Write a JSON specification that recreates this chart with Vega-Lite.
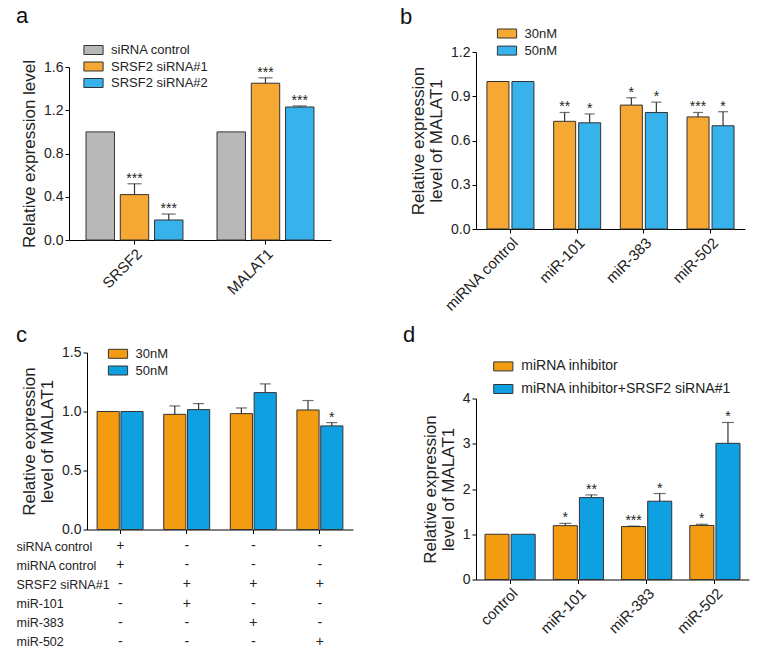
{
  "$schema": "https://vega.github.io/schema/vega-lite/v6.json",
  "padding": {"left": 15, "top": 4, "right": 5, "bottom": 0},
  "config": {
    "font": "Liberation Sans",
    "view": {"stroke": null},
    "axis": {"grid": false, "domainColor": "#000", "tickColor": "#000", "labelColor": "#222", "titleColor": "#222", "labelFontSize": 14, "titleFontSize": 17, "titleFontWeight": "normal", "tickSize": 4, "labelPadding": 2, "titlePadding": 5, "titleLineHeight": 18},
    "legend": {"labelFontSize": 13, "labelColor": "#222", "symbolType": "M-1.6,-0.75H1.6V0.75H-1.6Z", "symbolSize": 144, "symbolStrokeColor": "#333", "symbolStrokeWidth": 1, "symbolOpacity": 1, "labelOffset": 11, "rowPadding": 2.5, "title": null},
    "title": {"fontSize": 22, "fontWeight": "normal", "anchor": "start", "frame": "group", "color": "#111"}
  },
  "datasets": {
    "a": [
      {"g": "SRSF2", "s": "siRNA control", "v": 1.0, "u": 1.0, "sig": ""},
      {"g": "SRSF2", "s": "SRSF2 siRNA#1", "v": 0.42, "u": 0.52, "sig": "***"},
      {"g": "SRSF2", "s": "SRSF2 siRNA#2", "v": 0.185, "u": 0.24, "sig": "***"},
      {"g": "MALAT1", "s": "siRNA control", "v": 1.0, "u": 1.0, "sig": ""},
      {"g": "MALAT1", "s": "SRSF2 siRNA#1", "v": 1.45, "u": 1.5, "sig": "***"},
      {"g": "MALAT1", "s": "SRSF2 siRNA#2", "v": 1.23, "u": 1.24, "sig": "***"}
    ],
    "b": [
      {"g": "miRNA control", "s": "30nM", "v": 1.0, "u": 1.0, "sig": ""},
      {"g": "miRNA control", "s": "50nM", "v": 1.0, "u": 1.0, "sig": ""},
      {"g": "miR-101", "s": "30nM", "v": 0.73, "u": 0.79, "sig": "**"},
      {"g": "miR-101", "s": "50nM", "v": 0.72, "u": 0.78, "sig": "*"},
      {"g": "miR-383", "s": "30nM", "v": 0.84, "u": 0.89, "sig": "*"},
      {"g": "miR-383", "s": "50nM", "v": 0.79, "u": 0.86, "sig": "*"},
      {"g": "miR-502", "s": "30nM", "v": 0.76, "u": 0.79, "sig": "***"},
      {"g": "miR-502", "s": "50nM", "v": 0.70, "u": 0.795, "sig": "*"}
    ],
    "c": [
      {"g": "control", "s": "30nM", "v": 1.0, "u": 1.0, "sig": ""},
      {"g": "control", "s": "50nM", "v": 1.0, "u": 1.0, "sig": ""},
      {"g": "miR-101", "s": "30nM", "v": 0.976, "u": 1.047, "sig": ""},
      {"g": "miR-101", "s": "50nM", "v": 1.016, "u": 1.067, "sig": ""},
      {"g": "miR-383", "s": "30nM", "v": 0.982, "u": 1.03, "sig": ""},
      {"g": "miR-383", "s": "50nM", "v": 1.16, "u": 1.234, "sig": ""},
      {"g": "miR-502", "s": "30nM", "v": 1.013, "u": 1.093, "sig": ""},
      {"g": "miR-502", "s": "50nM", "v": 0.878, "u": 0.906, "sig": "*"}
    ],
    "ct": [
      {"g": "control", "row": "siRNA control", "sym": "+"},
      {"g": "miR-101", "row": "siRNA control", "sym": "-"},
      {"g": "miR-383", "row": "siRNA control", "sym": "-"},
      {"g": "miR-502", "row": "siRNA control", "sym": "-"},
      {"g": "control", "row": "miRNA control", "sym": "+"},
      {"g": "miR-101", "row": "miRNA control", "sym": "-"},
      {"g": "miR-383", "row": "miRNA control", "sym": "-"},
      {"g": "miR-502", "row": "miRNA control", "sym": "-"},
      {"g": "control", "row": "SRSF2 siRNA#1", "sym": "-"},
      {"g": "miR-101", "row": "SRSF2 siRNA#1", "sym": "+"},
      {"g": "miR-383", "row": "SRSF2 siRNA#1", "sym": "+"},
      {"g": "miR-502", "row": "SRSF2 siRNA#1", "sym": "+"},
      {"g": "control", "row": "miR-101", "sym": "-"},
      {"g": "miR-101", "row": "miR-101", "sym": "+"},
      {"g": "miR-383", "row": "miR-101", "sym": "-"},
      {"g": "miR-502", "row": "miR-101", "sym": "-"},
      {"g": "control", "row": "miR-383", "sym": "-"},
      {"g": "miR-101", "row": "miR-383", "sym": "-"},
      {"g": "miR-383", "row": "miR-383", "sym": "+"},
      {"g": "miR-502", "row": "miR-383", "sym": "-"},
      {"g": "control", "row": "miR-502", "sym": "-"},
      {"g": "miR-101", "row": "miR-502", "sym": "-"},
      {"g": "miR-383", "row": "miR-502", "sym": "-"},
      {"g": "miR-502", "row": "miR-502", "sym": "+"}
    ],
    "d": [
      {"g": "control", "s": "miRNA inhibitor", "v": 1.0, "u": 1.0, "sig": ""},
      {"g": "control", "s": "miRNA inhibitor+SRSF2 siRNA#1", "v": 1.0, "u": 1.0, "sig": ""},
      {"g": "miR-101", "s": "miRNA inhibitor", "v": 1.19, "u": 1.24, "sig": "*"},
      {"g": "miR-101", "s": "miRNA inhibitor+SRSF2 siRNA#1", "v": 1.81, "u": 1.87, "sig": "**"},
      {"g": "miR-383", "s": "miRNA inhibitor", "v": 1.17, "u": 1.18, "sig": "***"},
      {"g": "miR-383", "s": "miRNA inhibitor+SRSF2 siRNA#1", "v": 1.73, "u": 1.9, "sig": "*"},
      {"g": "miR-502", "s": "miRNA inhibitor", "v": 1.195, "u": 1.22, "sig": "*"},
      {"g": "miR-502", "s": "miRNA inhibitor+SRSF2 siRNA#1", "v": 3.01, "u": 3.47, "sig": "*"}
    ]
  },
  "columns": 2,
  "align": "none",
  "spacing": {"column": 0, "row": 8.5},
  "resolve": {"scale": {"x": "independent", "y": "independent", "xOffset": "independent", "color": "independent"}, "legend": {"color": "independent"}},
  "concat": [
    {"width": 1, "height": 1, "data": {"values": []}, "mark": "point"},
    {
      "columns": 2,
      "align": "none",
      "spacing": {"column": 69, "row": 0},
      "resolve": {"scale": {"x": "independent", "y": "independent", "xOffset": "independent", "color": "independent"}, "legend": {"color": "independent"}},
      "concat": [
        {"width": 1, "height": 1, "data": {"values": []}, "mark": "point"},
        {"width": 1, "height": 1, "data": {"values": []}, "mark": "point"},
        {
          "width": 262, "height": 173,
          "title": {"text": "a", "dx": -53, "offset": 15.3},
          "data": {"name": "a"},
          "encoding": {
            "x": {"field": "g", "type": "nominal", "sort": ["SRSF2", "MALAT1"], "scale": {"paddingInner": 0.26, "paddingOuter": 0.13}, "axis": {"title": null, "labelAngle": -45, "labelFontSize": 15}},
            "xOffset": {"field": "s", "type": "nominal", "sort": ["siRNA control", "SRSF2 siRNA#1", "SRSF2 siRNA#2"], "scale": {"paddingInner": 0.17, "paddingOuter": 0}}
          },
          "layer": [
            {"mark": {"type": "bar", "stroke": "#333", "strokeWidth": 1},
             "encoding": {
               "y": {"field": "v", "type": "quantitative", "title": "Relative expression level", "scale": {"domain": [0, 1.6], "nice": false}, "axis": {"values": [0, 0.4, 0.8, 1.2, 1.6], "format": ".1f"}},
               "color": {"field": "s", "type": "nominal", "sort": ["siRNA control", "SRSF2 siRNA#1", "SRSF2 siRNA#2"], "scale": {"range": ["#B8B8B8", "#F5A833", "#37B2EB"]}, "legend": {"orient": "none", "legendX": 18, "legendY": -23.5}}
             }},
            {"transform": [{"filter": "datum.u > datum.v"}], "mark": {"type": "rule", "color": "#333", "strokeWidth": 1.2},
             "encoding": {"y": {"field": "v", "type": "quantitative", "title": "Relative expression level"}, "y2": {"field": "u"}}},
            {"transform": [{"filter": "datum.u > datum.v"}], "mark": {"type": "tick", "color": "#333", "size": 14, "thickness": 1.2},
             "encoding": {"y": {"field": "u", "type": "quantitative", "title": "Relative expression level"}}},
            {"mark": {"type": "text", "baseline": "alphabetic", "dy": -1, "fontSize": 14, "color": "#222"},
             "encoding": {"y": {"field": "u", "type": "quantitative", "title": "Relative expression level"}, "text": {"field": "sig"}}}
          ]
        },
        {
          "width": 269, "height": 177,
          "title": {"text": "b", "dx": -76, "offset": -1.8},
          "data": {"name": "b"},
          "encoding": {
            "x": {"field": "g", "type": "nominal", "sort": ["miRNA control", "miR-101", "miR-383", "miR-502"], "scale": {"paddingInner": 0.295, "paddingOuter": 0.164}, "axis": {"title": null, "labelAngle": -45, "labelFontSize": 15}},
            "xOffset": {"field": "s", "type": "nominal", "sort": ["30nM", "50nM"], "scale": {"paddingInner": 0.12, "paddingOuter": 0}}
          },
          "layer": [
            {"mark": {"type": "bar", "stroke": "#333", "strokeWidth": 1},
             "encoding": {
               "y": {"field": "v", "type": "quantitative", "title": ["Relative expression", "level of MALAT1"], "scale": {"domain": [0, 1.2], "nice": false}, "axis": {"values": [0, 0.3, 0.6, 0.9, 1.2], "format": ".1f"}},
               "color": {"field": "s", "type": "nominal", "sort": ["30nM", "50nM"], "scale": {"range": ["#F5A833", "#37B2EB"]}, "legend": {"orient": "none", "legendX": 24.5, "legendY": -25, "rowPadding": 3.1}}
             }},
            {"transform": [{"filter": "datum.u > datum.v"}], "mark": {"type": "rule", "color": "#333", "strokeWidth": 1.2},
             "encoding": {"y": {"field": "v", "type": "quantitative", "title": ["Relative expression", "level of MALAT1"]}, "y2": {"field": "u"}}},
            {"transform": [{"filter": "datum.u > datum.v"}], "mark": {"type": "tick", "color": "#333", "size": 10, "thickness": 1.2},
             "encoding": {"y": {"field": "u", "type": "quantitative", "title": ["Relative expression", "level of MALAT1"]}}},
            {"mark": {"type": "text", "baseline": "alphabetic", "dy": -1, "fontSize": 14, "color": "#222"},
             "encoding": {"y": {"field": "u", "type": "quantitative", "title": ["Relative expression", "level of MALAT1"]}, "text": {"field": "sig"}}}
          ]
        }
      ]
    },
    {"width": 1, "height": 1, "data": {"values": []}, "mark": "point"},
    {
      "columns": 2,
      "align": "none",
      "spacing": {"column": 50, "row": 0},
      "resolve": {"scale": {"x": "independent", "y": "independent", "xOffset": "independent", "color": "independent"}, "legend": {"color": "independent"}},
      "concat": [
        {"width": 1, "height": 1, "data": {"values": []}, "mark": "point"},
        {"width": 1, "height": 1, "data": {"values": []}, "mark": "point"},
        {
          "spacing": -2,
          "resolve": {"scale": {"x": "independent", "y": "independent", "xOffset": "independent", "color": "independent"}, "legend": {"color": "independent"}},
          "vconcat": [
            {
              "width": 266, "height": 177,
              "title": {"text": "c", "dx": -71, "offset": -1.8},
              "data": {"name": "c"},
              "encoding": {
                "x": {"field": "g", "type": "nominal", "sort": ["control", "miR-101", "miR-383", "miR-502"], "scale": {"paddingInner": 0.31, "paddingOuter": 0.152}, "axis": {"title": null, "labels": false}},
                "xOffset": {"field": "s", "type": "nominal", "sort": ["30nM", "50nM"], "scale": {"paddingInner": 0.07, "paddingOuter": 0}}
              },
              "layer": [
                {"mark": {"type": "bar", "stroke": "#333", "strokeWidth": 1},
                 "encoding": {
                   "y": {"field": "v", "type": "quantitative", "title": ["Relative expression", "level of MALAT1"], "scale": {"domain": [0, 1.5], "nice": false}, "axis": {"values": [0, 0.5, 1.0, 1.5], "format": ".1f"}},
                   "color": {"field": "s", "type": "nominal", "sort": ["30nM", "50nM"], "scale": {"range": ["#F39C12", "#0FA0E2"]}, "legend": {"orient": "none", "legendX": 24.5, "legendY": -5.2, "rowPadding": 2.7}}
                 }},
                {"transform": [{"filter": "datum.u > datum.v"}], "mark": {"type": "rule", "color": "#333", "strokeWidth": 1.2},
                 "encoding": {"y": {"field": "v", "type": "quantitative", "title": ["Relative expression", "level of MALAT1"]}, "y2": {"field": "u"}}},
                {"transform": [{"filter": "datum.u > datum.v"}], "mark": {"type": "tick", "color": "#333", "size": 11, "thickness": 1.2},
                 "encoding": {"y": {"field": "u", "type": "quantitative", "title": ["Relative expression", "level of MALAT1"]}}},
                {"mark": {"type": "text", "baseline": "alphabetic", "dy": -1, "fontSize": 14, "color": "#222"},
                 "encoding": {"y": {"field": "u", "type": "quantitative", "title": ["Relative expression", "level of MALAT1"]}, "text": {"field": "sig"}}}
              ]
            },
            {
              "width": 266, "height": 115,
              "data": {"name": "ct"},
              "mark": {"type": "text", "fontSize": 14, "color": "#222"},
              "encoding": {
                "x": {"field": "g", "type": "nominal", "sort": ["control", "miR-101", "miR-383", "miR-502"], "scale": {"paddingInner": 0.31, "paddingOuter": 0.152}, "axis": null},
                "y": {"field": "row", "type": "nominal", "sort": ["siRNA control", "miRNA control", "SRSF2 siRNA#1", "miR-101", "miR-383", "miR-502"], "scale": {"paddingInner": 0, "paddingOuter": 0}, "axis": {"title": null, "domain": false, "ticks": false, "labelAlign": "left", "labelPadding": 71, "labelFontSize": 12.5}},
                "text": {"field": "sym"}
              }
            }
          ]
        },
        {
          "width": 273, "height": 181,
          "title": {"text": "d", "dx": -73, "offset": 12.2},
          "data": {"name": "d"},
          "encoding": {
            "x": {"field": "g", "type": "nominal", "sort": ["control", "miR-101", "miR-383", "miR-502"], "scale": {"paddingInner": 0.265, "paddingOuter": 0.132}, "axis": {"title": null, "labelAngle": -45, "labelFontSize": 15}},
            "xOffset": {"field": "s", "type": "nominal", "sort": ["miRNA inhibitor", "miRNA inhibitor+SRSF2 siRNA#1"], "scale": {"paddingInner": 0.08, "paddingOuter": 0}}
          },
          "layer": [
            {"mark": {"type": "bar", "stroke": "#333", "strokeWidth": 1},
             "encoding": {
               "y": {"field": "v", "type": "quantitative", "title": ["Relative expression", "level of MALAT1"], "scale": {"domain": [0, 4], "nice": false}, "axis": {"values": [0, 1, 2, 3, 4], "format": "d"}},
               "color": {"field": "s", "type": "nominal", "sort": ["miRNA inhibitor", "miRNA inhibitor+SRSF2 siRNA#1"], "scale": {"range": ["#F39C12", "#0FA0E2"]}, "legend": {"orient": "none", "legendX": 20.3, "legendY": -39.1, "labelFontSize": 14, "rowPadding": 8.6, "labelLimit": 300}}
             }},
            {"transform": [{"filter": "datum.u > datum.v"}], "mark": {"type": "rule", "color": "#333", "strokeWidth": 1.2},
             "encoding": {"y": {"field": "v", "type": "quantitative", "title": ["Relative expression", "level of MALAT1"]}, "y2": {"field": "u"}}},
            {"transform": [{"filter": "datum.u > datum.v"}], "mark": {"type": "tick", "color": "#333", "size": 12, "thickness": 1.2},
             "encoding": {"y": {"field": "u", "type": "quantitative", "title": ["Relative expression", "level of MALAT1"]}}},
            {"mark": {"type": "text", "baseline": "alphabetic", "dy": -1, "fontSize": 14, "color": "#222"},
             "encoding": {"y": {"field": "u", "type": "quantitative", "title": ["Relative expression", "level of MALAT1"]}, "text": {"field": "sig"}}}
          ]
        }
      ]
    }
  ]
}
